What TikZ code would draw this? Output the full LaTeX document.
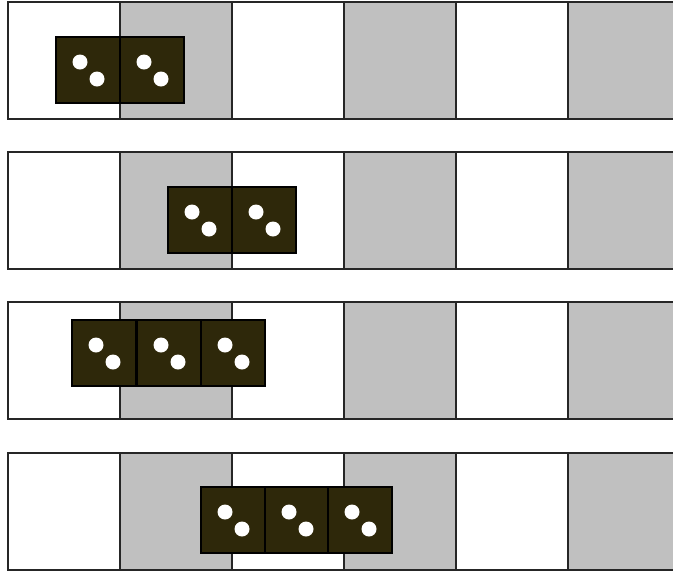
\documentclass[tikz,border=0pt]{standalone}
\definecolor{cellgray}{RGB}{192,192,192}
\definecolor{tiledark}{RGB}{46,40,10}
\tikzset{
  strip/.style={draw=black!85,line width=0.5pt},
  tile/.style={fill=tiledark,draw=black,line width=0.4pt},
  pip/.style={fill=white,draw=none}
}
\begin{document}
\begin{tikzpicture}[x=0.01cm,y=-0.01cm]
\useasboundingbox (0,0) rectangle (673,575);
\clip (0,0) rectangle (673,575);
\foreach \top in {2,152,302,453} {
  \foreach \c in {1,3,5}
    \fill[cellgray] (8+112*\c,\top) rectangle ++(112,117);
  \foreach \c in {1,...,5}
    \draw[strip] (8+112*\c,\top) -- ++(0,117);
  \draw[strip] (8,\top) rectangle (700,\top+117);
}
\foreach \x/\y in {56/37,120/37,168/187,232/187,72/320,137/320,201/320,201/487,265/487,328/487} {
  \draw[tile] (\x,\y) rectangle ++(64,66);
  \fill[pip] (\x+24,\y+25) circle (7.5);
  \fill[pip] (\x+41,\y+42) circle (7.5);
}
\end{tikzpicture}
\end{document}
